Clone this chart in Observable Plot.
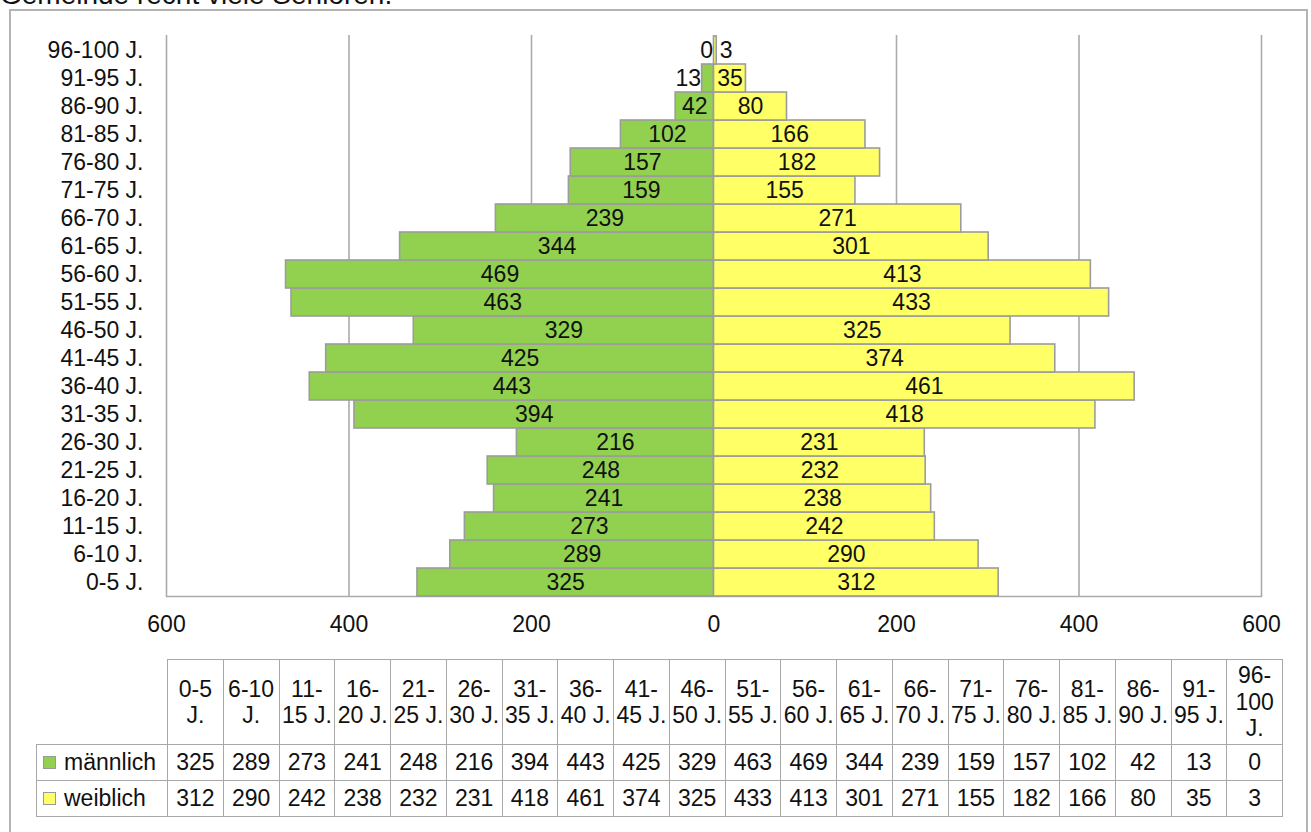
<!DOCTYPE html>
<html><head><meta charset="utf-8">
<script src="https://cdn.jsdelivr.net/npm/d3@7"></script>
<script src="https://cdn.jsdelivr.net/npm/@observablehq/plot@0.6"></script>
<style>
html,body{margin:0;padding:0;background:#fff;width:1311px;height:832px;overflow:hidden;font-family:"Liberation Sans",Arial,sans-serif;color:#111;}
#frame{position:absolute;left:9px;top:9px;width:1299px;height:900px;border:2px solid #b4b4b4;box-sizing:border-box;}
#title{position:absolute;left:0;top:-19px;font-size:28px;line-height:28px;white-space:nowrap;}
#chart{position:absolute;left:0;top:0;}
#tbl{position:absolute;left:36px;top:659px;border-collapse:collapse;table-layout:fixed;font-size:23px;}
#tbl td{border:1.5px solid #a8a8a8;text-align:center;padding:0;line-height:26.5px;}
#tbl td.empty{border-top:none;border-left:none;}
#tbl td.lab{text-align:left;padding-left:6px;white-space:nowrap;}
.sw{display:inline-block;width:11px;height:11px;border:1px solid #999;margin-right:8px;vertical-align:1px;}
</style></head>
<body>
<div id="title">Gemeinde recht viele Senioren.</div>
<div id="frame"></div>
<div id="chart"></div>
<table id="tbl"></table>
<script>
const ages = ["0-5 J.","6-10 J.","11-15 J.","16-20 J.","21-25 J.","26-30 J.","31-35 J.","36-40 J.","41-45 J.","46-50 J.","51-55 J.","56-60 J.","61-65 J.","66-70 J.","71-75 J.","76-80 J.","81-85 J.","86-90 J.","91-95 J.","96-100 J."];
const male = [325,289,273,241,248,216,394,443,425,329,463,469,344,239,159,157,102,42,13,0];
const female = [312,290,242,238,232,231,418,461,374,325,433,413,301,271,155,182,166,80,35,3];
const seriesNames = ["männlich","weiblich"];
const seriesColors = ["#92D050","#FFFF66"];
const xTicks = [-600,-400,-200,0,200,400,600];

const data = [];
ages.forEach((a,i)=>{
  data.push({age:a, sex:seriesNames[0], v:-male[i], n:male[i]});
  data.push({age:a, sex:seriesNames[1], v:female[i], n:female[i]});
});
const small = 20;
const big = data.filter(d=>d.n>=small);
const smallM = data.filter(d=>d.n<small && d.v<=0 && d.sex===seriesNames[0]);
const smallF = data.filter(d=>d.n<small && d.sex===seriesNames[1]);

const chart = Plot.plot({
  width:1311, height:650,
  marginLeft:166, marginRight:50, marginTop:35, marginBottom:54,
  style:{fontFamily:"Liberation Sans, Arial, sans-serif", fontSize:"23px", color:"#111", background:"transparent"},
  x:{domain:[-600,600], ticks:xTicks, tickFormat:d=>Math.abs(d), tickSize:0, tickPadding:19, label:null},
  y:{domain:[...ages].reverse(), padding:0, tickSize:0, tickPadding:23, label:null},
  color:{domain:seriesNames, range:seriesColors},
  marks:[
    Plot.ruleX(xTicks,{stroke:"#ababab", strokeWidth:1.6}),
    Plot.frame({anchor:"bottom", stroke:"#ababab", strokeWidth:1.6}),
    Plot.barX(data,{y:"age", x1:0, x2:"v", fill:"sex", stroke:"#9c9c9c", strokeWidth:1.6}),
    Plot.text(big,{y:"age", x:d=>d.v/2, text:"n", fill:"#111", fontSize:23}),
    Plot.text(smallM,{y:"age", x:"v", text:"n", textAnchor:"end", dx:-1, fill:"#111", fontSize:23}),
    Plot.text(smallF,{y:"age", x:"v", text:"n", textAnchor:"start", dx:3, fill:"#111", fontSize:23})
  ]
});
document.getElementById("chart").appendChild(chart);

// data table
const tbl = d3.select("#tbl");
const cg = tbl.append("colgroup");
cg.append("col").style("width","131px");
ages.forEach(()=>cg.append("col").style("width","55.75px"));
const hr = tbl.append("tr").style("height","85px");
hr.append("td").attr("class","empty");
ages.forEach(a=>hr.append("td").text(a));
[male,female].forEach((vals,k)=>{
  const r = tbl.append("tr").style("height","36px");
  const c = r.append("td").attr("class","lab");
  c.append("span").attr("class","sw").style("background",seriesColors[k]);
  c.append("span").text(seriesNames[k]);
  vals.forEach(v=>r.append("td").text(v));
});
</script>
</body></html>
